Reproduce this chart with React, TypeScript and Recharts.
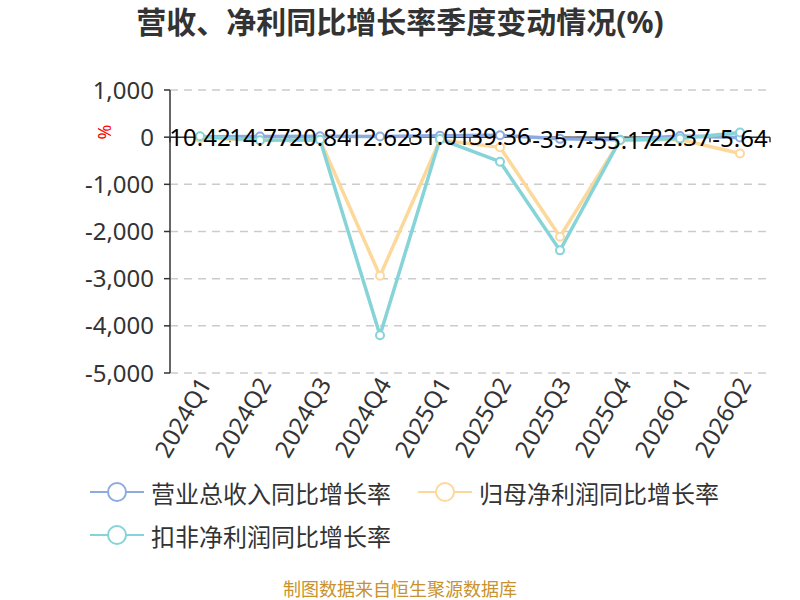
import React from 'react';
import { LineChart, Line, XAxis, YAxis, CartesianGrid, ReferenceLine, LabelList } from 'recharts';

const quarters = ['2024Q1', '2024Q2', '2024Q3', '2024Q4', '2025Q1', '2025Q2', '2025Q3', '2025Q4', '2026Q1', '2026Q2'];
const revenueYoY = [10.42, 14.77, 20.84, 12.62, 31.01, 39.36, -35.7, -55.17, 22.37, -5.64];
const netProfitYoY = [-20, -70, -60, -2940, -60, -215, -2110, -70, -50, -345];
const deductedYoY = [20, -65, -55, -4200, -40, -520, -2400, -60, -30, 100];
const yTicks = [1000, 0, -1000, -2000, -3000, -4000, -5000];

const seriesNames = ['营业总收入同比增长率', '归母净利润同比增长率', '扣非净利润同比增长率'];
const colors = ['#8eabdf', '#fdd89b', '#86d4d8'];

const data = quarters.map((q, i) => ({
  quarter: q,
  revenue: revenueYoY[i],
  netProfit: netProfitYoY[i],
  deducted: deductedYoY[i],
}));

const FONT = '"Noto Sans", "Noto Sans CJK SC", sans-serif';

const ZeroAxis = (props: any) => {
  const { x1, y1, x2, y2 } = props;
  const n = quarters.length;
  const step = (x2 - x1) / n;
  const ticks = [];
  for (let i = 0; i <= n; i++) {
    const x = x1 + i * step;
    ticks.push(<line key={i} x1={x} y1={y1} x2={x} y2={y1 + 5} stroke="#333" strokeWidth={1.5} />);
  }
  return (
    <g>
      <line x1={x1} y1={y1} x2={x2} y2={y2} stroke="#333" strokeWidth={1.5} />
      {ticks}
    </g>
  );
};

const XTick = (props: any) => {
  const { x, y, payload } = props;
  return (
    <text
      x={x + 4}
      y={y}
      transform={`rotate(-60 ${x + 4} ${y})`}
      textAnchor="end"
      dominantBaseline="central"
      fontSize={24}
      fill="#333"
      fontFamily={FONT}
    >
      {payload.value}
    </text>
  );
};

const ValueLabel = (props: any) => {
  const { x, y, value } = props;
  return (
    <text x={x} y={y} textAnchor="middle" dominantBaseline="central" fontSize={24} fill="#000" fontFamily={FONT}>
      {value}
    </text>
  );
};

const LegendIcon = ({ color }: { color: string }) => (
  <svg width={54} height={22} style={{ display: 'block' }}>
    <line x1={0} y1={11} x2={54} y2={11} stroke={color} strokeWidth={2} />
    <circle cx={27} cy={11} r={9} fill="#fff" stroke={color} strokeWidth={2} />
  </svg>
);

const LegendItem = ({ i, left, top }: { i: number; left: number; top: number }) => (
  <div style={{ position: 'absolute', left, top, display: 'flex', alignItems: 'center', height: 30 }}>
    <LegendIcon color={colors[i]} />
    <span style={{ marginLeft: 7, fontSize: 24, color: '#333', fontFamily: FONT, whiteSpace: 'nowrap' }}>
      {seriesNames[i]}
    </span>
  </div>
);

export default function App() {
  return (
    <div style={{ position: 'absolute', left: 0, top: 0, width: 800, height: 600, background: '#fff' }}>
      <div
        style={{
          position: 'absolute',
          left: 0,
          top: 3,
          width: 800,
          textAlign: 'center',
          fontSize: 30,
          fontWeight: 'bold',
          color: '#333',
          fontFamily: FONT,
          lineHeight: '38px',
        }}
      >
        营收、净利同比增长率季度变动情况(%)
      </div>
      <div
        style={{
          position: 'absolute',
          left: 97,
          top: 120,
          color: '#f00',
          fontSize: 18,
          fontFamily: FONT,
          transform: 'rotate(-90deg)',
          lineHeight: '24px',
        }}
      >
        %
      </div>
      <LineChart width={800} height={600} data={data} margin={{ top: 90, right: 30, bottom: 127, left: 0 }}>
        <CartesianGrid vertical={false} stroke="#ccc" strokeDasharray="8 6" strokeWidth={1.5} />
        <XAxis
          dataKey="quarter"
          scale="band"
          interval={0}
          height={100}
          axisLine={false}
          tickLine={false}
          tickSize={0}
          tickMargin={6}
          tick={<XTick />}
        />
        <YAxis
          width={170}
          domain={[-5000, 1000]}
          ticks={yTicks}
          interval={0}
          axisLine={{ stroke: '#333', strokeWidth: 1.5 }}
          tickLine={{ stroke: '#333', strokeWidth: 1.5 }}
          tickSize={6}
          tickMargin={10}
          tick={{ fontSize: 24, fill: '#333', fontFamily: FONT }}
          tickFormatter={(v: number) => v.toLocaleString('en-US')}
        />
        <ReferenceLine y={0} stroke="#333" shape={<ZeroAxis />} />
        <Line
          dataKey="revenue"
          stroke={colors[0]}
          strokeWidth={3.5}
          dot={{ r: 4, fill: '#fff', stroke: colors[0], strokeWidth: 2 }}
          isAnimationActive={false}
        />
        <Line
          dataKey="netProfit"
          stroke={colors[1]}
          strokeWidth={3.5}
          dot={{ r: 4, fill: '#fff', stroke: colors[1], strokeWidth: 2 }}
          isAnimationActive={false}
        />
        <Line
          dataKey="deducted"
          stroke={colors[2]}
          strokeWidth={3.5}
          dot={{ r: 4, fill: '#fff', stroke: colors[2], strokeWidth: 2 }}
          isAnimationActive={false}
        />
        <Line dataKey="revenue" stroke="none" dot={false} activeDot={false} isAnimationActive={false} legendType="none">
          <LabelList dataKey="revenue" content={<ValueLabel />} />
        </Line>
      </LineChart>
      <LegendItem i={0} left={90} top={477} />
      <LegendItem i={1} left={418} top={477} />
      <LegendItem i={2} left={90} top={520} />
      <div
        style={{
          position: 'absolute',
          left: 0,
          top: 578,
          width: 800,
          textAlign: 'center',
          fontSize: 18,
          color: '#c8922e',
          fontFamily: FONT,
          lineHeight: '22px',
        }}
      >
        制图数据来自恒生聚源数据库
      </div>
    </div>
  );
}
